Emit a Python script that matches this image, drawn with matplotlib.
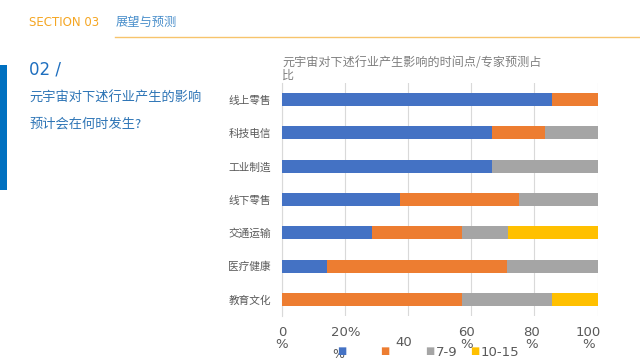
import numpy as np
import matplotlib
matplotlib.use("Agg")
import matplotlib.pyplot as plt
import matplotlib.transforms as mtransforms

plt.rcParams['font.family'] = ['Noto Sans CJK SC', 'DejaVu Sans']

# ---
# data (share of experts, %)
industries = ["线上零售", "科技电信", "工业制造", "线下零售", "交通运输", "医疗健康", "教育文化"]
s_1_3   = [85.7, 66.7, 66.7, 37.5, 28.6, 14.3, 0.0]
s_4_6   = [14.3, 16.7, 0.0, 37.5, 28.6, 57.1, 57.1]
s_7_9   = [0.0, 16.7, 33.3, 25.0, 14.3, 28.6, 28.6]
s_10_15 = [0.0, 0.0, 0.0, 0.0, 28.6, 0.0, 14.3]

series = [s_1_3, s_4_6, s_7_9, s_10_15]
colors = ["#4472C4", "#ED7D31", "#A5A5A5", "#FFC000"]
legend_labels = ["", "", "7-9", "10-15"]

xticks = [0, 20, 40, 60, 80, 100]
xtick_labels = ["0\n%", "20%", "", "60\n%", "80\n%", "100\n%"]
# the reference draws some tick labels a little left of their tick (pixels)
xtick_shift = [0, 1, 0, -5, -3, -9]

# ---
fig = plt.figure(figsize=(6.4, 3.6), dpi=100)
fig.patch.set_facecolor("white")

# header
fig.text(29 / 640, 1 - 23 / 360, "SECTION 03", color="#F5A623", fontsize=8.5,
         va="center", ha="left", family="DejaVu Sans")
fig.text(116 / 640, 1 - 22 / 360, "展望与预测", color="#4A8FCB", fontsize=8.8,
         va="center", ha="left")
fig.add_artist(plt.Line2D([115 / 640, 1.0], [1 - 37 / 360, 1 - 37 / 360],
                          color="#F7C46C", lw=1.0))

# left accent bar
fig.add_artist(plt.Rectangle((0, 1 - 190 / 360), 7 / 640, 125 / 360,
                             color="#0070C0", lw=0))

fig.text(29 / 640, 1 - 69 / 360, "02 /", color="#1F6FBF", fontsize=12,
         va="center", ha="left", family="DejaVu Sans")
fig.text(29 / 640, 1 - 98 / 360, "元宇宙对下述行业产生的影响", color="#2E75B6",
         fontsize=9.5, va="center", ha="left")
fig.text(29 / 640, 1 - 124 / 360, "预计会在何时发生?", color="#2E75B6",
         fontsize=9.5, va="center", ha="left")

# chart title
fig.text(282 / 640, 1 - 62 / 360, "元宇宙对下述行业产生影响的时间点/专家预测占",
         color="#7F7F7F", fontsize=8.7, va="center", ha="left")
fig.text(282 / 640, 1 - 75 / 360, "比", color="#7F7F7F", fontsize=8.7,
         va="center", ha="left")

# ---
ax = fig.add_axes([282 / 640, 1 - 316 / 360, (597.5 - 282) / 640, (316 - 83) / 360])
y = np.arange(len(industries))
left = np.zeros(len(industries))
for vals, col in zip(series, colors):
    vals = np.array(vals)
    ax.barh(y, vals, left=left, height=0.39, color=col, zorder=3)
    left += vals

ax.set_ylim(len(industries) - 0.5, -0.5)
ax.set_xlim(0, 100)
ax.set_yticks(y)
ax.set_yticklabels(industries, fontsize=7.7, color="#595959")
ax.tick_params(axis="y", length=0, pad=8)
ax.set_xticks(xticks)
ax.set_xticklabels([])
ax.tick_params(axis="x", length=0)
base = ax.get_xaxis_transform()
for xv, lab, dx in zip(xticks, xtick_labels, xtick_shift):
    tr = base + mtransforms.ScaledTranslation(dx / 100, -10 / 100, fig.dpi_scale_trans)
    ax.text(xv, 0, lab, transform=tr, ha="center", va="top", fontsize=9.5,
            color="#595959", linespacing=0.9, family="DejaVu Sans")
ax.grid(axis="x", color="#D9D9D9", lw=0.8, zorder=0)
for side in ["top", "right", "bottom"]:
    ax.spines[side].set_visible(False)
ax.spines["left"].set_color("#D9D9D9")

# stray label pieces as drawn in the reference
fig.text(404 / 640, 1 - 343 / 360, "40", color="#595959", fontsize=9.5,
         va="center", ha="center", family="DejaVu Sans")
fig.text(338 / 640, 1 - 355 / 360, "%", color="#595959", fontsize=9,
         va="center", ha="center", family="DejaVu Sans")

# legend
legend_x = [342, 385, 430, 475]
for lx, col, lab in zip(legend_x, colors, legend_labels):
    fig.text(lx / 640, 1 - 351 / 360, "■", color=col, fontsize=7,
             va="center", ha="center", family="DejaVu Sans")
    if lab:
        fig.text((lx + 6) / 640, 1 - 352 / 360, lab, color="#595959", fontsize=9.5,
                 va="center", ha="left", family="DejaVu Sans")

fig.savefig("out.png", dpi=100)
